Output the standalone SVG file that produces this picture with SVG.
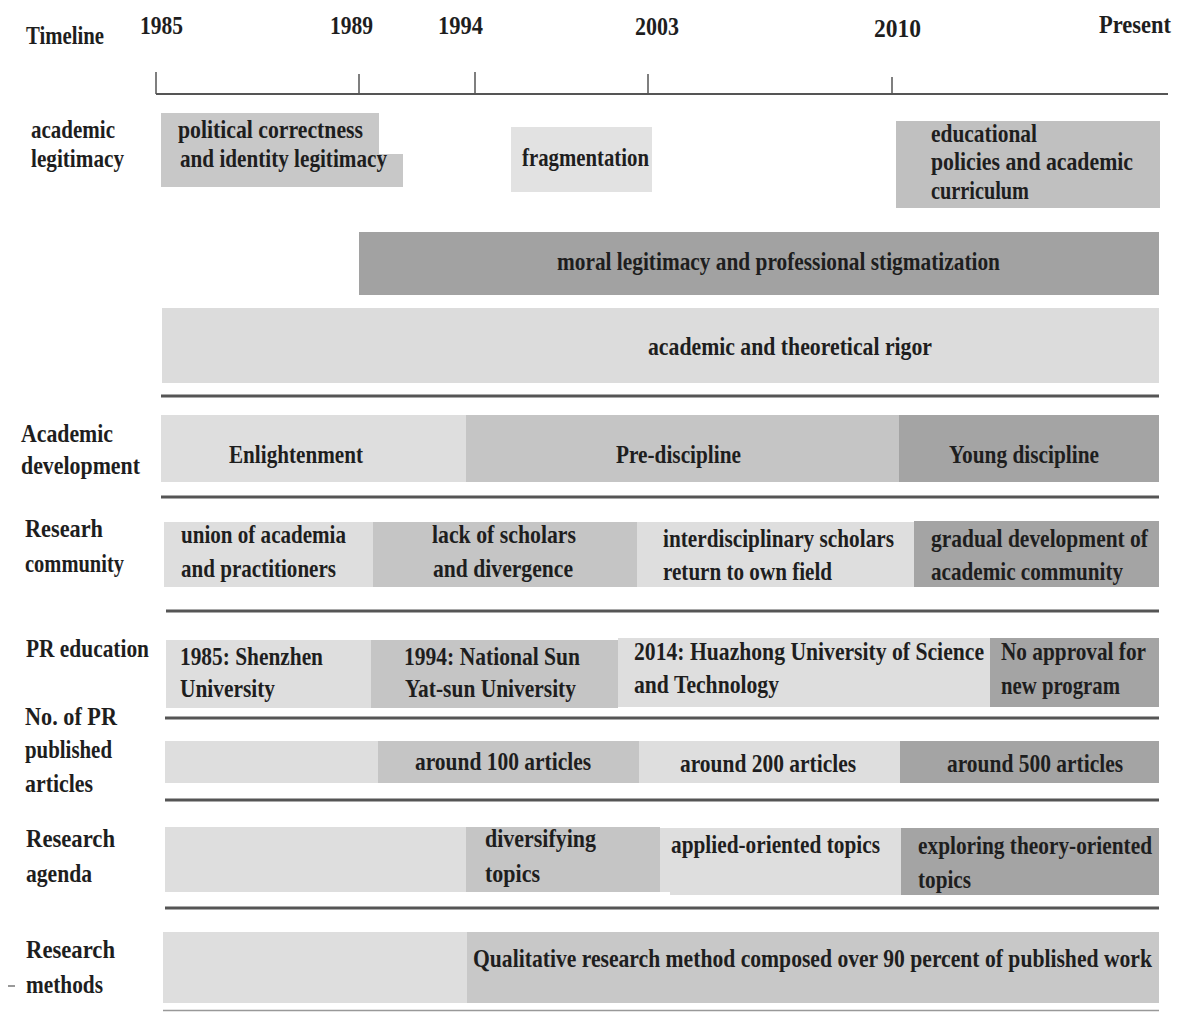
<svg xmlns="http://www.w3.org/2000/svg" width="1180" height="1012" viewBox="0 0 1180 1012">
<style>
.t{font-family:"Liberation Serif","Times New Roman",serif;font-weight:bold;font-size:25px;fill:#1e1e1e}
.l{fill:#dedede}
.m{fill:#c5c5c5}
.d{fill:#a4a4a4}
.sep{stroke:#555;stroke-width:3;fill:none}
.ax{stroke:#555;stroke-width:2;fill:none}
.tk{stroke:#555;stroke-width:1.5;fill:none}
</style>
<rect width="1180" height="1012" fill="#ffffff"/>

<g id="timeline">
<text class="t" x="26" y="44" textLength="78" lengthAdjust="spacingAndGlyphs">Timeline</text>
<text class="t" x="140" y="34" textLength="43" lengthAdjust="spacingAndGlyphs">1985</text>
<text class="t" x="330" y="34" textLength="43" lengthAdjust="spacingAndGlyphs">1989</text>
<text class="t" x="438" y="34" textLength="45" lengthAdjust="spacingAndGlyphs">1994</text>
<text class="t" x="635" y="35" textLength="44" lengthAdjust="spacingAndGlyphs">2003</text>
<text class="t" x="874" y="37" textLength="47" lengthAdjust="spacingAndGlyphs">2010</text>
<text class="t" x="1099" y="33" textLength="72" lengthAdjust="spacingAndGlyphs">Present</text>
</g>

<g id="connectors">
<line class="ax" x1="156" y1="94" x2="1168" y2="94"/>
<line class="tk" x1="156" y1="72" x2="156" y2="94"/>
<line class="tk" x1="359" y1="74" x2="359" y2="94"/>
<line class="tk" x1="475" y1="72" x2="475" y2="94"/>
<line class="tk" x1="648" y1="74" x2="648" y2="94"/>
<line class="tk" x1="892" y1="77" x2="892" y2="94"/>
<line class="sep" x1="161" y1="396" x2="1159" y2="396"/>
<line class="sep" x1="161" y1="497" x2="1159" y2="497"/>
<line class="sep" x1="166" y1="611" x2="1159" y2="611"/>
<line class="sep" x1="165" y1="718" x2="1159" y2="718"/>
<line class="sep" x1="165" y1="800" x2="1159" y2="800"/>
<line class="sep" x1="165" y1="908" x2="1159" y2="908"/>
<line x1="163" y1="1010.5" x2="1159" y2="1010.5" stroke="#999" stroke-width="1.5"/>
<line x1="8" y1="986" x2="15" y2="986" stroke="#999" stroke-width="2"/>
</g>

<g id="row-academic-legitimacy">
<text class="t" x="31" y="138" textLength="84" lengthAdjust="spacingAndGlyphs">academic</text>
<text class="t" x="31" y="167" textLength="93" lengthAdjust="spacingAndGlyphs">legitimacy</text>
</g>
<g id="node-political">
<path d="M161 113H379V154H403V187H161Z" fill="#c8c8c8"/>
<text class="t" x="178" y="138" textLength="185" lengthAdjust="spacingAndGlyphs">political correctness</text>
<text class="t" x="180" y="167" textLength="207" lengthAdjust="spacingAndGlyphs">and identity legitimacy</text>
</g>
<g id="node-fragmentation">
<rect x="511" y="127" width="141" height="65" fill="#e2e2e2"/>
<text class="t" x="522" y="166" textLength="127" lengthAdjust="spacingAndGlyphs">fragmentation</text>
</g>
<g id="node-educational">
<rect x="896" y="121" width="264" height="87" fill="#c0c0c0"/>
<text class="t" x="931" y="142" textLength="106" lengthAdjust="spacingAndGlyphs">educational</text>
<text class="t" x="931" y="170" textLength="202" lengthAdjust="spacingAndGlyphs">policies and academic</text>
<text class="t" x="931" y="199" textLength="98" lengthAdjust="spacingAndGlyphs">curriculum</text>
</g>
<g id="node-moral">
<rect x="359" y="232" width="800" height="63" fill="#a2a2a2"/>
<text class="t" x="557" y="270" textLength="443" lengthAdjust="spacingAndGlyphs">moral legitimacy and professional stigmatization</text>
</g>
<g id="node-rigor">
<rect x="162" y="308" width="997" height="75" fill="#dcdcdc"/>
<text class="t" x="648" y="355" textLength="284" lengthAdjust="spacingAndGlyphs">academic and theoretical rigor</text>
</g>

<g id="row-academic-development">
<text class="t" x="21" y="442" textLength="92" lengthAdjust="spacingAndGlyphs">Academic</text>
<text class="t" x="21" y="474" textLength="119" lengthAdjust="spacingAndGlyphs">development</text>
</g>
<g id="node-enlightenment">
<rect class="l" x="161" y="415" width="305" height="67"/>
<text class="t" x="229" y="463" textLength="134" lengthAdjust="spacingAndGlyphs">Enlightenment</text>
</g>
<g id="node-prediscipline">
<rect class="m" x="466" y="415" width="433" height="67"/>
<text class="t" x="616" y="463" textLength="125" lengthAdjust="spacingAndGlyphs">Pre-discipline</text>
</g>
<g id="node-young">
<rect class="d" x="899" y="415" width="260" height="67"/>
<text class="t" x="949" y="463" textLength="150" lengthAdjust="spacingAndGlyphs">Young discipline</text>
</g>

<g id="row-research-community">
<text class="t" x="25" y="537" textLength="78" lengthAdjust="spacingAndGlyphs">Researh</text>
<text class="t" x="25" y="572" textLength="99" lengthAdjust="spacingAndGlyphs">community</text>
</g>
<g id="node-union">
<rect class="l" x="164" y="522" width="209" height="65"/>
<text class="t" x="181" y="543" textLength="165" lengthAdjust="spacingAndGlyphs">union of academia</text>
<text class="t" x="181" y="577" textLength="155" lengthAdjust="spacingAndGlyphs">and practitioners</text>
</g>
<g id="node-lack">
<rect class="m" x="373" y="522" width="264" height="65"/>
<text class="t" x="432" y="543" textLength="144" lengthAdjust="spacingAndGlyphs">lack of scholars</text>
<text class="t" x="433" y="577" textLength="140" lengthAdjust="spacingAndGlyphs">and divergence</text>
</g>
<g id="node-interdisciplinary">
<rect class="l" x="637" y="522" width="277" height="65"/>
<text class="t" x="663" y="547" textLength="231" lengthAdjust="spacingAndGlyphs">interdisciplinary scholars</text>
<text class="t" x="663" y="580" textLength="169" lengthAdjust="spacingAndGlyphs">return to own field</text>
</g>
<g id="node-gradual">
<rect class="d" x="914" y="521" width="245" height="66"/>
<text class="t" x="931" y="547" textLength="217" lengthAdjust="spacingAndGlyphs">gradual development of</text>
<text class="t" x="931" y="580" textLength="192" lengthAdjust="spacingAndGlyphs">academic community</text>
</g>

<g id="row-pr-education">
<text class="t" x="26" y="657" textLength="123" lengthAdjust="spacingAndGlyphs">PR education</text>
</g>
<g id="node-1985">
<rect class="l" x="166" y="640" width="205" height="68"/>
<text class="t" x="180" y="665" textLength="143" lengthAdjust="spacingAndGlyphs">1985: Shenzhen</text>
<text class="t" x="180" y="697" textLength="95" lengthAdjust="spacingAndGlyphs">University</text>
</g>
<g id="node-1994">
<rect class="m" x="371" y="640" width="247" height="68"/>
<text class="t" x="404" y="665" textLength="176" lengthAdjust="spacingAndGlyphs">1994: National Sun</text>
<text class="t" x="405" y="697" textLength="171" lengthAdjust="spacingAndGlyphs">Yat-sun University</text>
</g>
<g id="node-2014">
<rect class="l" x="618" y="638" width="372" height="69"/>
<text class="t" x="634" y="660" textLength="350" lengthAdjust="spacingAndGlyphs">2014: Huazhong University of Science</text>
<text class="t" x="634" y="693" textLength="145" lengthAdjust="spacingAndGlyphs">and Technology</text>
</g>
<g id="node-noapproval">
<rect class="d" x="990" y="638" width="169" height="69"/>
<text class="t" x="1001" y="660" textLength="145" lengthAdjust="spacingAndGlyphs">No approval for</text>
<text class="t" x="1001" y="694" textLength="119" lengthAdjust="spacingAndGlyphs">new program</text>
</g>

<g id="row-articles">
<text class="t" x="25" y="725" textLength="92" lengthAdjust="spacingAndGlyphs">No. of PR</text>
<text class="t" x="25" y="758" textLength="87" lengthAdjust="spacingAndGlyphs">published</text>
<text class="t" x="25" y="792" textLength="68" lengthAdjust="spacingAndGlyphs">articles</text>
</g>
<g id="node-articles-early">
<rect class="l" x="165" y="741" width="213" height="42"/>
</g>
<g id="node-100">
<rect class="m" x="378" y="741" width="261" height="42"/>
<text class="t" x="415" y="770" textLength="176" lengthAdjust="spacingAndGlyphs">around 100 articles</text>
</g>
<g id="node-200">
<rect class="l" x="639" y="741" width="261" height="42"/>
<text class="t" x="680" y="772" textLength="176" lengthAdjust="spacingAndGlyphs">around 200 articles</text>
</g>
<g id="node-500">
<rect class="d" x="900" y="741" width="259" height="42"/>
<text class="t" x="947" y="772" textLength="176" lengthAdjust="spacingAndGlyphs">around 500 articles</text>
</g>

<g id="row-research-agenda">
<text class="t" x="26" y="847" textLength="89" lengthAdjust="spacingAndGlyphs">Research</text>
<text class="t" x="26" y="882" textLength="66" lengthAdjust="spacingAndGlyphs">agenda</text>
</g>
<g id="node-agenda-early">
<rect class="l" x="165" y="827" width="301" height="65"/>
</g>
<g id="node-diversifying">
<rect class="m" x="466" y="827" width="194" height="65"/>
<text class="t" x="485" y="847" textLength="111" lengthAdjust="spacingAndGlyphs">diversifying</text>
<text class="t" x="485" y="882" textLength="55" lengthAdjust="spacingAndGlyphs">topics</text>
</g>
<g id="node-applied">
<path class="l" d="M660 828H901V895H670V892H660Z"/>
<text class="t" x="671" y="853" textLength="209" lengthAdjust="spacingAndGlyphs">applied-oriented topics</text>
</g>
<g id="node-exploring">
<rect class="d" x="901" y="828" width="258" height="67"/>
<text class="t" x="918" y="854" textLength="234" lengthAdjust="spacingAndGlyphs">exploring theory-oriented</text>
<text class="t" x="918" y="888" textLength="53" lengthAdjust="spacingAndGlyphs">topics</text>
</g>

<g id="row-research-methods">
<text class="t" x="26" y="958" textLength="89" lengthAdjust="spacingAndGlyphs">Research</text>
<text class="t" x="26" y="993" textLength="77" lengthAdjust="spacingAndGlyphs">methods</text>
</g>
<g id="node-methods-early">
<rect class="l" x="163" y="932" width="304" height="71"/>
</g>
<g id="node-qualitative">
<rect x="467" y="932" width="692" height="71" fill="#c8c8c8"/>
<text class="t" x="473" y="967" textLength="679" lengthAdjust="spacingAndGlyphs">Qualitative research method composed over 90 percent of published work</text>
</g>
</svg>
